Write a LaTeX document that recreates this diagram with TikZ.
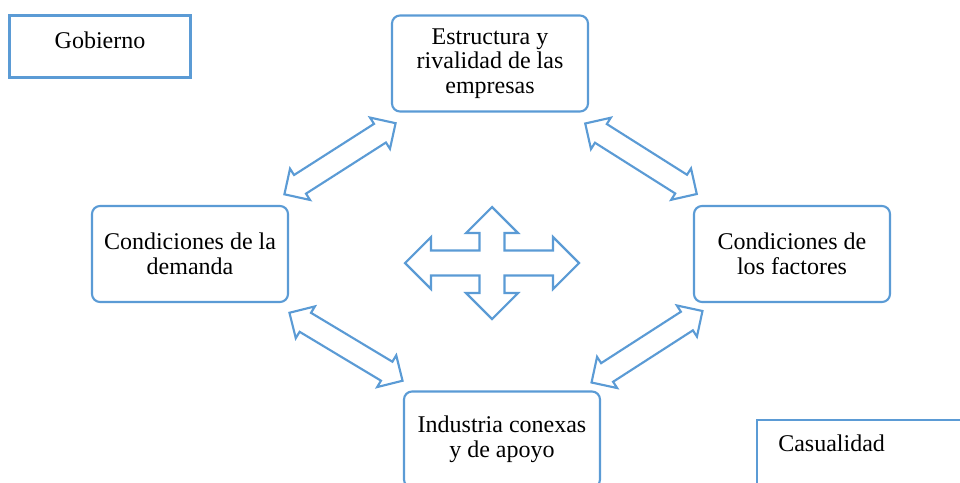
\documentclass[tikz,border=0pt]{standalone}
\usepackage{fontspec}
\setmainfont{Liberation Serif}
\usetikzlibrary{shapes.arrows}
\usetikzlibrary{calc}
\definecolor{boxblue}{RGB}{91,155,213}

\begin{document}
\begin{tikzpicture}[x=0.75pt, y=-0.75pt,
	every node/.style={font=\fontsize{18}{18.4}\selectfont, text=black},
	plainbox/.style={draw=boxblue, line width=1.6pt},
	roundbox/.style={draw=boxblue, line width=1.6pt, rounded corners=6pt, align=center,
		minimum width=147pt, minimum height=72pt, inner sep=0pt},
	blockarrow/.style={draw=boxblue, line width=1.6pt, double arrow, inner xsep=0pt,
		inner ysep=7.5pt, double arrow head extend=5.6pt, minimum height=99pt}]
	% page: 960 x 482 px
	\clip (0,0) rectangle (960,482);
	% side boxes
	\draw[plainbox] (9.5,15.5) rectangle (190.5,77.5);
	\node (gob) at (100,40) {Gobierno};
	\draw[plainbox] (757,420) rectangle (1000,540);
	\node[anchor=base west, inner xsep=0pt] (cas) at (778,451.5) {Casualidad};
	% diamond of four boxes
	\node[roundbox] (est) at (490,63.5) {Estructura y\\rivalidad de las\\empresas};
	\node[roundbox] (dem) at (190,254) {Condiciones de la\\demanda};
	\node[roundbox] (fac) at (792,254) {Condiciones de\\los factores};
	\node[roundbox] (ind) at (502,439.5) {Industria conexas\\y de apoyo};
	% double arrows between the boxes
	\node[blockarrow, rotate=32.6] (a1) at ($(dem.north east)!0.5!(est.south west)$) {};
	\node[blockarrow, rotate=-32.3] (a2) at ($(est.south east)!0.5!(fac.north west)$) {};
	\node[blockarrow, rotate=-31] (a3) at ($(dem.south east)!0.5!(ind.north west)$) {};
	\node[blockarrow, rotate=32.8] (a4) at ($(ind.north east)!0.5!(fac.south west)$) {};
	% four-way arrow in the middle
	\coordinate (cross) at (492,263);
	\draw[boxblue, line width=1.6pt, line join=miter, shift={(cross)}]
		(0,-56) -- (26,-30) -- (12.5,-30) -- (12.5,-12.5) -- (61,-12.5) -- (61,-26)
		-- (87,0) -- (61,26) -- (61,12.5) -- (12.5,12.5) -- (12.5,30) -- (26,30)
		-- (0,56) -- (-26,30) -- (-12.5,30) -- (-12.5,12.5) -- (-61,12.5) -- (-61,26)
		-- (-87,0) -- (-61,-26) -- (-61,-12.5) -- (-12.5,-12.5) -- (-12.5,-30) -- (-26,-30)
		-- cycle;
\end{tikzpicture}
\end{document}
